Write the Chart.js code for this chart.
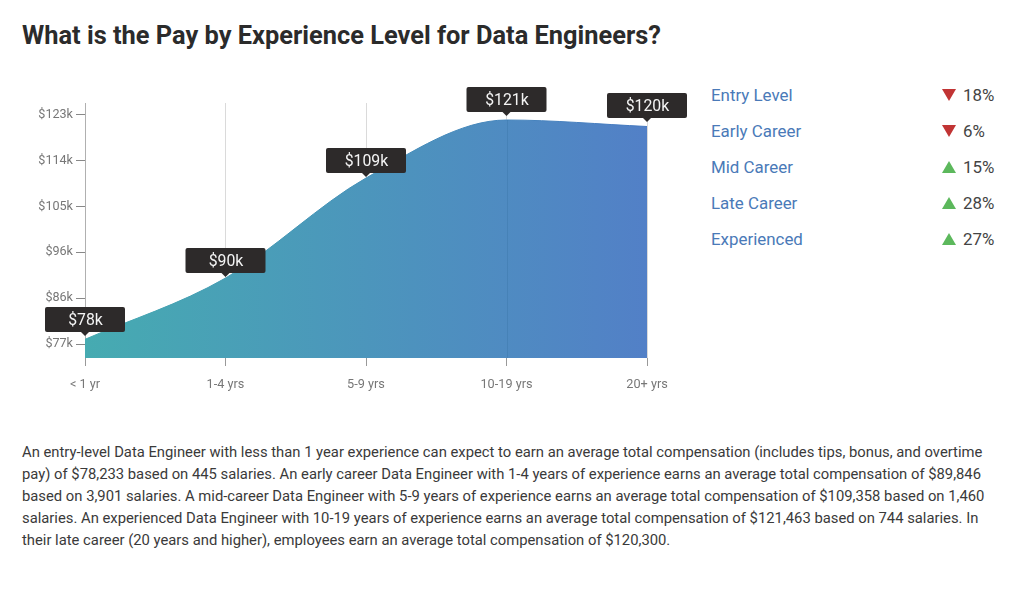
<!DOCTYPE html>
<html><head><meta charset="utf-8">
<script src="https://cdn.jsdelivr.net/npm/chart.js@4"></script>
<style>
html,body{margin:0;padding:0;background:#fff;width:1024px;height:596px;overflow:hidden;font-family:Roboto,sans-serif}
h1{position:absolute;left:22px;top:20px;margin:0;font-size:25.4px;line-height:30px;font-weight:700;color:#2b2b2b}
#wrap{position:absolute;left:0;top:80px;width:700px;height:320px}
.row{position:absolute;left:711px;width:290px;height:24px;line-height:24px;font-size:16.9px;color:#4a7ab8}
.row .tri{position:absolute;left:231px;top:6px;width:0;height:0;border-left:7px solid transparent;border-right:7px solid transparent}
.row .down{border-top:12px solid #c13434}
.row .up{border-bottom:12px solid #5cb85c}
.row .pct{position:absolute;left:252px;top:0;color:#444}
p{position:absolute;left:22px;top:442px;width:975px;margin:0;font-size:14.8px;line-height:21.9px;color:#3a3a3a}
</style></head><body>
<h1>What is the Pay by Experience Level for Data Engineers?</h1>
<div id="wrap"><canvas id="c" width="700" height="320" style="display:block;width:700px;height:320px"></canvas></div>
<div id="legend"></div>
<p>An entry-level Data Engineer with less than 1 year experience can expect to earn an average total compensation (includes tips, bonus, and overtime pay) of $78,233 based on 445 salaries. An early career Data Engineer with 1-4 years of experience earns an average total compensation of $89,846 based on 3,901 salaries. A mid-career Data Engineer with 5-9 years of experience earns an average total compensation of $109,358 based on 1,460 salaries. An experienced Data Engineer with 10-19 years of experience earns an average total compensation of $121,463 based on 744 salaries. In their late career (20 years and higher), employees earn an average total compensation of $120,300.</p>
<script>
const categories = ["< 1 yr","1-4 yrs","5-9 yrs","10-19 yrs","20+ yrs"];
const pay = [78.25,90.5,110.5,122.1,120.8];
const payLabels = ["$78k","$90k","$109k","$121k","$120k"];
const calloutTips = [78.9,90.7,110.7,122.9,121.7];
const yTicks = [77.3,86.5,95.7,104.8,114,123.2];
const yTickLabels = ["$77k","$86k","$96k","$105k","$114k","$123k"];
const yMin = 74.52, yMax = 125.5;
const levels = ["Entry Level","Early Career","Mid Career","Late Career","Experienced"];
const changes = [18,6,15,28,27];
const directions = ["down","down","up","up","up"];

const legend = document.getElementById('legend');
levels.forEach((l,i)=>{
  const r=document.createElement('div');r.className='row';r.style.top=(83+36*i)+'px';
  r.innerHTML='<span>'+l+'</span><span class="tri '+directions[i]+'"></span><span class="pct">'+changes[i]+'%</span>';
  legend.appendChild(r);
});

function grad(ctx,area,a,b){const g=ctx.createLinearGradient(area.left,0,area.right,0);g.addColorStop(0,a);g.addColorStop(1,b);return g;}

const callouts={id:'callouts',afterDraw(chart){
  const {ctx,scales:{x,y},chartArea:area}=chart;
  ctx.save();
  const m=chart.getDatasetMeta(0).data;
  ctx.strokeStyle='rgba(50,110,160,.3)';ctx.lineWidth=1;
  [3].forEach(i=>{const px=Math.round(m[i].x)+.5;ctx.beginPath();ctx.moveTo(px,m[i].y);ctx.lineTo(px,area.bottom);ctx.stroke();});
  const W=80,H=25;
  payLabels.forEach((t,i)=>{
    const px=x.getPixelForValue(i),tip=y.getPixelForValue(calloutTips[i]);
    const b=tip-4;
    ctx.fillStyle='#2d2a2a';
    ctx.beginPath();ctx.roundRect(px-W/2,b-H,W,H,2);ctx.fill();
    ctx.beginPath();ctx.moveTo(px-4,b);ctx.lineTo(px+4,b);ctx.lineTo(px,tip);ctx.closePath();ctx.fill();
    ctx.fillStyle='#f4f4f4';ctx.font='400 15.8px Roboto';ctx.textAlign='center';ctx.textBaseline='middle';
    ctx.fillText(t,px+.5,b-H/2+1.5);
  });
  ctx.restore();
}};

new Chart(document.getElementById('c'),{
  type:'line',
  data:{labels:categories,datasets:[{
    data:pay,fill:'start',tension:0.4,cubicInterpolationMode:'monotone',
    pointRadius:0,borderWidth:1,
    borderColor(c){const a=c.chart.chartArea;return a?grad(c.chart.ctx,a,'#45a9b0','#4578c0'):'#48a';},
    backgroundColor(c){const a=c.chart.chartArea;return a?grad(c.chart.ctx,a,'#46abb1','#5280c7'):'#48a';}
  }]},
  plugins:[callouts],
  options:{
    responsive:false,animation:false,devicePixelRatio:1,
    layout:{padding:{left:0,right:53,top:23,bottom:0}},
    plugins:{legend:{display:false},tooltip:{enabled:false}},
    scales:{
      x:{type:'category',offset:false,
        grid:{color(c){return c.index===0?'#b0b0b0':'#dadada';},tickColor:'#999',tickLength:8,drawTicks:true},
        border:{display:false},
        ticks:{color:'#777',font:{family:'Roboto',size:12.7},padding:11,maxRotation:0,autoSkip:false},
        afterFit(s){s.height=42;}
      },
      y:{min:yMin,max:yMax,
        grid:{drawOnChartArea:false,tickColor:'#888',tickLength:9},
        border:{display:false},
        afterBuildTicks(s){s.ticks=yTicks.map(v=>({value:v}));},
        ticks:{color:'#777',font:{family:'Roboto',size:12.6},padding:3,autoSkip:false,
          callback(v,i){return yTickLabels[i];}},
        afterFit(s){s.width=85;}
      }
    }
  }
});
</script>
</body></html>
